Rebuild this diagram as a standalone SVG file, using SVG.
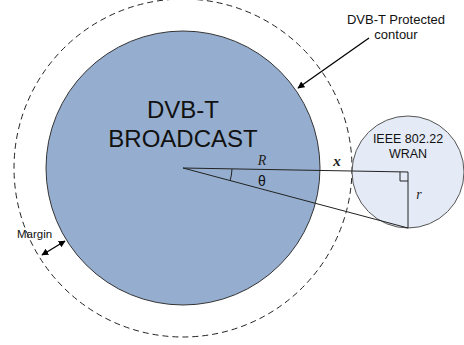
<svg xmlns="http://www.w3.org/2000/svg" width="464" height="345" viewBox="0 0 464 345">
  <defs>
    <marker id="arrow" viewBox="0 0 10 10" refX="9" refY="5" markerWidth="7" markerHeight="7" orient="auto-start-reverse" markerUnits="userSpaceOnUse">
      <path d="M0,0 L10,5 L0,10 z" fill="#000"/>
    </marker>
  </defs>
  <style>
    .sans { font-family: "Liberation Sans", Arial, sans-serif; fill: #111; }
    .serif { font-family: "Liberation Serif", "Times New Roman", serif; font-style: italic; fill: #222; }
    .geo { stroke: #222; stroke-width: 1; fill: none; }
  </style>
  <rect width="464" height="345" fill="#fff"/>

  <!-- margin boundary -->
  <g id="margin-contour">
    <circle cx="183" cy="168" r="169" fill="none" stroke="#222" stroke-width="1" stroke-dasharray="6,4"/>
  </g>

  <!-- broadcast coverage -->
  <g id="dvbt">
    <circle cx="183" cy="168" r="137" fill="#95aecf" stroke="#333" stroke-width="1"/>
    <text class="sans" x="183" y="118" font-size="24" text-anchor="middle">DVB-T</text>
    <text class="sans" x="183" y="147" font-size="24" text-anchor="middle">BROADCAST</text>
  </g>

  <!-- WRAN cell -->
  <g id="wran">
    <circle cx="408" cy="172" r="56" fill="#e5ebf6" stroke="#555" stroke-width="1"/>
    <text class="sans" x="408" y="143" font-size="12.5" text-anchor="middle">IEEE 802.22</text>
    <text class="sans" x="408" y="158" font-size="12.5" text-anchor="middle">WRAN</text>
  </g>

  <g id="connectors">
    <!-- geometry lines -->
    <line class="geo" x1="183" y1="168" x2="408" y2="172"/>
    <line class="geo" x1="408" y1="172" x2="408" y2="228"/>
    <line class="geo" x1="183" y1="168" x2="408" y2="228"/>
    <path class="geo" d="M400,172 V181 H408"/>
    <path class="geo" d="M232,169 A49,49 0 0 1 230,181"/>
    <!-- callouts -->
    <line x1="369" y1="38" x2="298" y2="88" stroke="#000" stroke-width="1.3" marker-end="url(#arrow)"/>
    <line x1="42" y1="255" x2="65" y2="241" stroke="#000" stroke-width="1.3" marker-start="url(#arrow)" marker-end="url(#arrow)"/>
  </g>

  <g id="labels">
    <text class="serif" x="262" y="165" font-size="14" text-anchor="middle">R</text>
    <text class="sans" x="262" y="186" font-size="14" text-anchor="middle">θ</text>
    <text class="serif" x="337" y="166" font-size="15" font-weight="bold" text-anchor="middle">x</text>
    <text class="serif" x="419" y="199" font-size="14" text-anchor="middle">r</text>
    <text class="sans" x="396" y="24" font-size="13" text-anchor="middle">DVB-T Protected</text>
    <text class="sans" x="396" y="39" font-size="13" text-anchor="middle">contour</text>
    <text class="sans" x="17" y="238" font-size="11.5">Margin</text>
  </g>
</svg>
